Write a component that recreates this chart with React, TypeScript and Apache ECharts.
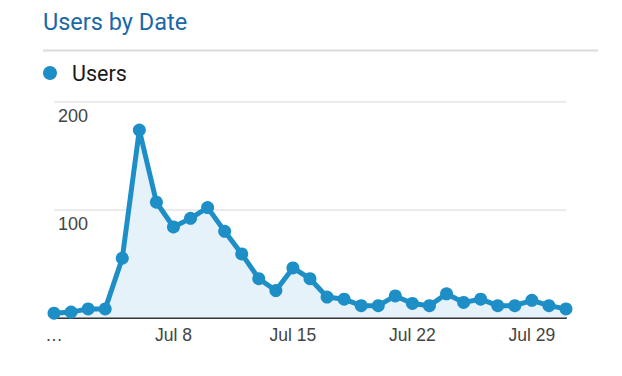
import React, { useEffect, useRef } from "react";
import * as echarts from "echarts";

const dates: string[] = Array.from({ length: 31 }, (_, i) => `Jul ${i + 1}`);
const users: number[] = [
  4, 5, 8, 8, 55, 174, 107, 84, 92, 102, 80, 59, 36, 25, 46, 36,
  19, 17, 11, 11, 20, 13, 11, 22, 14, 17, 11, 11, 16, 11, 8,
];
const yTicks = { min: 0, max: 200, interval: 100 };

export default function App() {
  const ref = useRef<HTMLDivElement>(null);
  useEffect(() => {
    if (!ref.current) return;
    const chart = echarts.init(ref.current, undefined, { renderer: "svg" });
    chart.setOption({
      animation: false,
      textStyle: { fontFamily: "Roboto" },
      title: {
        text: "Users by Date",
        left: 35,
        top: 2,
        padding: 0,
        textStyle: { color: "#1a68a8", fontSize: 23.5, fontWeight: "normal", fontFamily: "Roboto" },
      },
      graphic: [
        {
          type: "line",
          shape: { x1: 35, y1: 42.5, x2: 590, y2: 42.5 },
          style: { stroke: "#dcdcdc", lineWidth: 2 },
        },
      ],
      legend: {
        left: 35,
        top: 54,
        padding: 0,
        icon: "circle",
        itemWidth: 14,
        itemHeight: 14,
        itemGap: 10,
        textStyle: { fontSize: 21.5, color: "#1a1a1a", fontFamily: "Roboto", padding: [0, 0, 0, 10] },
        data: ["Users"],
      },
      grid: { left: 46, right: 48, top: 94, bottom: 50.5 },
      xAxis: {
        type: "category",
        data: dates,
        boundaryGap: false,
        axisLine: { lineStyle: { color: "#333", width: 2 } },
        axisTick: { show: false },
        axisLabel: {
          interval: 6,
          color: "#444",
          fontSize: 17.5,
          fontFamily: "Liberation Sans",
          margin: 8,
          formatter: (v: string, i: number) => (i === 0 ? "…" : v),
        },
        splitLine: { show: false },
      },
      yAxis: {
        type: "value",
        min: yTicks.min,
        max: yTicks.max,
        interval: yTicks.interval,
        axisLine: { show: false },
        axisTick: { show: false },
        axisLabel: {
          inside: true,
          showMinLabel: false,
          align: "left",
          verticalAlign: "top",
          margin: 4,
          padding: [5, 0, 0, 0],
          color: "#444",
          fontSize: 18,
          fontFamily: "Liberation Sans",
        },
        splitLine: { lineStyle: { color: "#ebebeb", width: 2 } },
      },
      series: [
        {
          name: "Users",
          type: "line",
          data: users,
          symbol: "circle",
          symbolSize: 13,
          showAllSymbol: true,
          lineStyle: { color: "#1e8fc6", width: 5 },
          itemStyle: { color: "#1e8fc6" },
          areaStyle: { color: "#e5f2f9", opacity: 1 },
        },
      ],
    });
    return () => chart.dispose();
  }, []);
  return <div ref={ref} style={{ width: 606, height: 360 }} />;
}
